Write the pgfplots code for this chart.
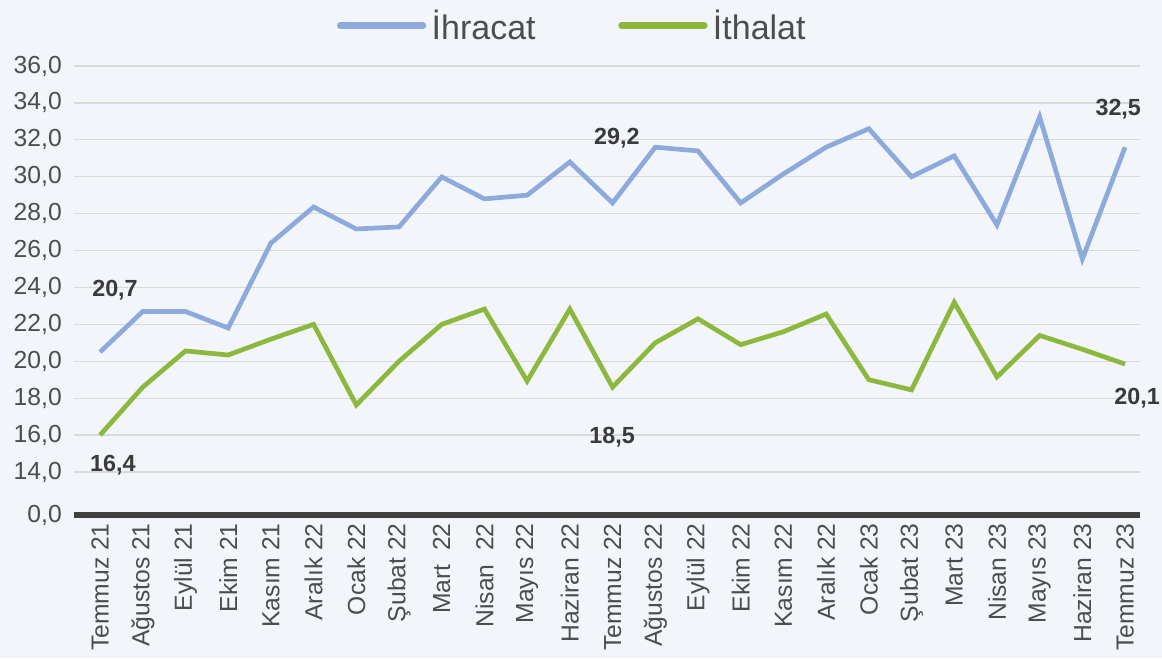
\documentclass[border=0pt]{standalone}
\usepackage{pgfplots}
\pgfplotsset{compat=1.18}
\usepackage{fontspec}
\setmainfont{Liberation Sans}
\definecolor{bgc}{HTML}{F2F5FA}
\definecolor{blueL}{HTML}{8EA9DB}
\definecolor{greenL}{HTML}{8DB83E}
\definecolor{gridc}{HTML}{D9D9D9}
\definecolor{axc}{HTML}{404040}
\definecolor{txt}{HTML}{4D4D4D}
\definecolor{lbl}{HTML}{3A3A3A}
\begin{document}
\begin{tikzpicture}
\path[use as bounding box, fill=bgc] (-55.5pt,-107.25pt) rectangle (816pt,386.25pt);
\begin{axis}[
  at={(0pt,0pt)}, anchor=south west,
  scale only axis, width=799.5pt, height=336.75pt,
  xmin=-0.61, xmax=24.35, ymin=11.67, ymax=36,
  axis x line=bottom, axis y line=left, axis line style={draw=none, -},
  clip=false,
  xtick={0,...,24},
  xticklabels={Temmuz 21,Ağustos 21,Eylül 21,Ekim 21,Kasım 21,Aralık 22,Ocak 22,Şubat 22,Mart~~22,Nisan~~22,Mayıs 22,Haziran 22,Temmuz 22,Ağustos 22,Eylül 22,Ekim 22,Kasım 22,Aralık 22,Ocak 23,Şubat 23,Mart 23,Nisan 23,Mayıs 23,Haziran 23,Temmuz 23},
  ytick={11.67,14,16,18,20,22,24,26,28,30,32,34,36},
  yticklabels={{0,0},{14,0},{16,0},{18,0},{20,0},{22,0},{24,0},{26,0},{28,0},{30,0},{32,0},{34,0},{36,0}},
  major tick length=0pt,
  ymajorgrids, grid style={gridc, line width=1pt},
  xticklabel style={yshift=-6pt, rotate=90, anchor=east, inner sep=0pt, font=\fontsize{18.5}{21}\selectfont, text=txt},
  yticklabel style={anchor=east, inner sep=0pt, xshift=-9pt, font=\fontsize{18.5}{21}\selectfont, text=txt},
  legend columns=2,
  legend style={draw=none, fill=none, at={(rel axis cs:0.469,1.09)}, anchor=center, font=\fontsize{25.5}{28}\selectfont, text=txt, nodes={inner xsep=4pt}, /tikz/every even column/.append style={column sep=58pt}},
  legend image code/.code={\draw[#1, line width=5pt, line cap=round] (0pt,0pt) -- (62pt,0pt);},
]
\draw[axc, line width=4.3pt] (rel axis cs:0,0) -- (rel axis cs:1,0);
\addplot[blueL, line width=3.5pt, line join=miter] coordinates {
(0,20.5)(1,22.7)(2,22.7)(3,21.8)(4,26.4)(5,28.36)(6,27.17)(7,27.28)(8,29.99)(9,28.8)(10,29.0)(11,30.8)(12,28.58)(13,31.6)(14,31.4)(15,28.58)(16,30.15)(17,31.6)(18,32.6)(19,30.0)(20,31.13)(21,27.39)(22,33.24)(23,25.54)(24,31.6)};
\addlegendentry{İhracat}
\addplot[greenL, line width=3.5pt, line join=miter] coordinates {
(0,16.0)(1,18.6)(2,20.56)(3,20.34)(4,21.2)(5,22.0)(6,17.63)(7,20.0)(8,22.0)(9,22.83)(10,18.93)(11,22.83)(12,18.6)(13,21.0)(14,22.3)(15,20.9)(16,21.6)(17,22.56)(18,19.0)(19,18.45)(20,23.2)(21,19.15)(22,21.4)(23,20.65)(24,19.85)};
\addlegendentry{İthalat}
\begin{scope}[every node/.style={font=\fontsize{17.5}{20}\selectfont\bfseries, text=lbl}]
\node at (axis cs:0.35,23.86) {20,7};
\node at (axis cs:0.30,14.38) {16,4};
\node at (axis cs:12.1,32.1) {29,2};
\node at (axis cs:11.99,15.9) {18,5};
\node at (axis cs:23.84,33.67) {32,5};
\node at (axis cs:24.28,18.0) {20,1};
\end{scope}
\end{axis}
\end{tikzpicture}
\end{document}
